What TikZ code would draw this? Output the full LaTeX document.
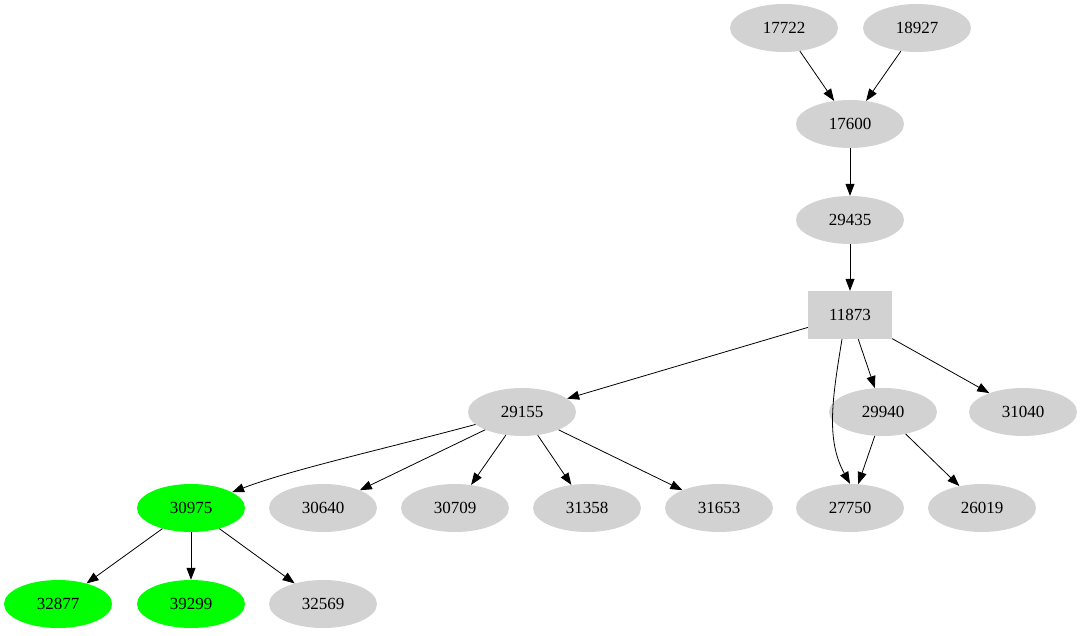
\documentclass[tikz,border=0pt]{standalone}
\usepackage{fontspec}
\setmainfont{Liberation Serif}
\usetikzlibrary{shapes.geometric,arrows.meta}
\begin{document}
\begin{tikzpicture}[x=1pt,y=-1pt,
  el/.style={ellipse,fill=gray!35,minimum width=108pt,minimum height=48pt,inner sep=0pt,font=\fontsize{17}{17}\selectfont},
  gr/.style={el,fill=green},
  bx/.style={rectangle,fill=gray!35,minimum width=84pt,minimum height=48pt,inner sep=0pt,font=\fontsize{17}{17}\selectfont},
  ed/.style={-{Triangle[length=12pt,width=9pt]},line width=0.8pt}]
\useasboundingbox (0,0) rectangle (1087,635);
\node[el] (a) at (784,28) {17722};
\node[el] (b) at (917,28) {18927};
\node[el] (c) at (850,124) {17600};
\node[el] (d) at (850,220) {29435};
\node[bx] (e) at (850,315) {11873};
\node[el] (f) at (522,412) {29155};
\node[el] (g) at (883,412) {29940};
\node[el] (h) at (1023,412) {31040};
\node[gr] (i) at (191,508) {30975};
\node[el] (j) at (323,508) {30640};
\node[el] (k) at (455,508) {30709};
\node[el] (l) at (587,508) {31358};
\node[el] (m) at (719,508) {31653};
\node[el] (n) at (850,508) {27750};
\node[el] (o) at (982,508) {26019};
\node[gr] (p) at (58,604) {32877};
\node[gr] (q) at (191,604) {39299};
\node[el] (r) at (323,604) {32569};
\draw[ed] (a)--(c); \draw[ed] (b)--(c); \draw[ed] (c)--(d); \draw[ed] (d)--(e);
\draw[ed] (e)--(f); \draw[ed] (e)--(g); \draw[ed] (e)--(h);
\draw[ed] (e.south) ++(-8,0) .. controls (832,400) and (826,440) .. (n.north);
\draw[ed] (g)--(n); \draw[ed] (g)--(o);
\draw[ed] (f) .. controls (380,450) and (290,470) .. (i);
\draw[ed] (f)--(j); \draw[ed] (f)--(k); \draw[ed] (f)--(l); \draw[ed] (f)--(m);
\draw[ed] (i)--(p); \draw[ed] (i)--(q); \draw[ed] (i)--(r);
\end{tikzpicture}
\end{document}
